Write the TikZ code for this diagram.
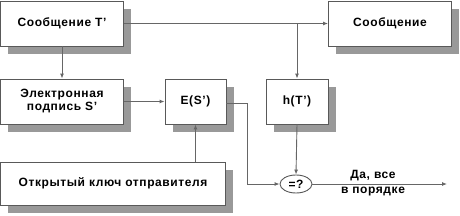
\documentclass[tikz,border=0pt]{standalone}
\usepackage{fontspec}
\setmainfont{Liberation Sans}[LetterSpace=5]
\usepackage{tikz}
\usetikzlibrary{positioning, calc, arrows.meta, shapes.geometric, shadows}

\begin{document}
\begin{tikzpicture}[
  x=1pt, y=-1pt,
  every node/.style={font=\bfseries\fontsize{12}{13}\selectfont},
  box/.style={rectangle, draw=black!65, fill=white, line width=0.9pt, inner sep=0pt,
    align=center, drop shadow={shadow xshift=7.5pt, shadow yshift=-8pt, fill=black!40, opacity=1}},
  cmp/.style={ellipse, draw=black!65, fill=white, line width=0.9pt, inner sep=0pt,
    minimum width=32pt, minimum height=18pt},
  link/.style={draw=black!60, line width=0.9pt, -{Latex[length=5pt,width=4pt]}},
]
\useasboundingbox (0,0) rectangle (460,215);

% Boxes
\node[box, minimum width=123pt, minimum height=45pt] (msgT) at (62,23.5) {Сообщение T'};
\node[box, minimum width=123pt, minimum height=45pt] (msg)  at (390,23.5) {Сообщение};
\node[box, minimum width=123pt, minimum height=45pt] (sig)  at (62,101.5) {Электронная\\подпись S'};
\node[box, minimum width=61pt,  minimum height=45pt] (ES)   at (195.5,101.5) {E(S')};
\node[box, minimum width=62pt,  minimum height=45pt] (hT)   at (297,101.5) {h(T')};
\node[box, minimum width=225pt, minimum height=43pt] (key)  at (113,183.5) {Открытый ключ отправителя};
\node[cmp] (eq) at (296,184) {=?};

% Helper points
\coordinate (split) at (hT.north |- msgT.east);
\coordinate (bend1) at (247,103);
\coordinate (bend2) at (247,184);
\coordinate (done)  at (447,184);

% Connectors
\draw[link] (msgT.east) -- (msg.west);
\draw[link] (split) -- (hT.north);
\draw[link] (msgT.south) -- (sig.north);
\draw[link] (sig.east) -- (ES.west);
\draw[link] (ES.south |- key.north) -- (ES.south);
\draw[link] (ES.east |- bend1) -- (bend1) -- (bend2) -- (eq.west);
\draw[link] (hT.south) -- (eq.north);
\draw[link] (eq.east) -- (done)
  node[pos=0.45, above=-1pt] (ok1) {Да, все}
  node[pos=0.45, below=-1pt] (ok2) {в порядке};
\end{tikzpicture}
\end{document}
